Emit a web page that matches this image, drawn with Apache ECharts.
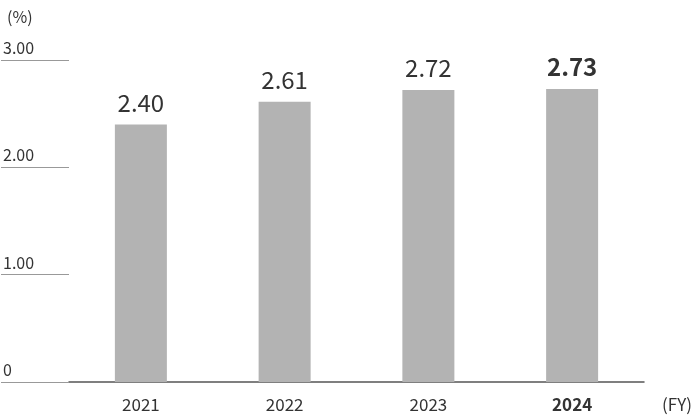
<!DOCTYPE html>
<html>
<head>
<meta charset="UTF-8">
<script src="https://cdn.jsdelivr.net/npm/echarts@6/dist/echarts.min.js"></script>
</head>
<body style="margin:0">
<div id="main" style="width:700px;height:419px"></div>
<script>
var years = ['2021', '2022', '2023', '2024'];
var values = [2.40, 2.61, 2.72, 2.73];
var yTicks = ['0', '1.00', '2.00', '3.00'];

var font = '"Noto Sans CJK JP", "Noto Sans", sans-serif';
var chart = echarts.init(document.getElementById('main'));
chart.setOption({
  textStyle: { fontFamily: font },
  grid: { left: 68, right: 56, top: 60, bottom: 37 },
  title: {
    text: '(%)', left: 2, top: 4,
    textStyle: { fontSize: 16, fontWeight: 'normal', color: '#333', fontFamily: font }
  },
  graphic: [{
    type: 'text', right: 8, bottom: 6,
    style: { text: '(FY)', fontSize: 17, fill: '#333', fontFamily: font }
  }],
  xAxis: {
    type: 'category',
    data: years,
    axisLine: { lineStyle: { color: '#555', width: 1.5 } },
    axisTick: { show: false },
    axisLabel: {
      fontSize: 17, color: '#333', margin: 14, fontFamily: font,
      formatter: function (v) { return v === '2024' ? '{b|' + v + '}' : v; },
      rich: { b: { fontWeight: 'bold', fontSize: 17, color: '#333', fontFamily: font } }
    }
  },
  yAxis: {
    type: 'value', min: 0, max: 3, interval: 1,
    axisLine: { show: false },
    splitLine: { show: false },
    axisTick: { show: true, length: 68, lineStyle: { color: '#999' } },
    axisLabel: {
      align: 'left', margin: 66, verticalAlign: 'bottom', fontSize: 16, color: '#333',
      fontFamily: font, padding: [0, 0, 4, 0],
      formatter: function (v) { return yTicks[Math.round(v)]; }
    }
  },
  series: [{
    type: 'bar',
    data: values.map(function (v, i) {
      return {
        value: v,
        label: i === 3 ? { fontWeight: 'bold' } : {}
      };
    }),
    barWidth: 52,
    itemStyle: { color: '#b3b3b3' },
    label: {
      show: true, position: 'top', distance: 10, fontSize: 24, color: '#333', fontFamily: font,
      formatter: function (p) { return p.value.toFixed(2); }
    }
  }]
});
</script>
</body>
</html>
